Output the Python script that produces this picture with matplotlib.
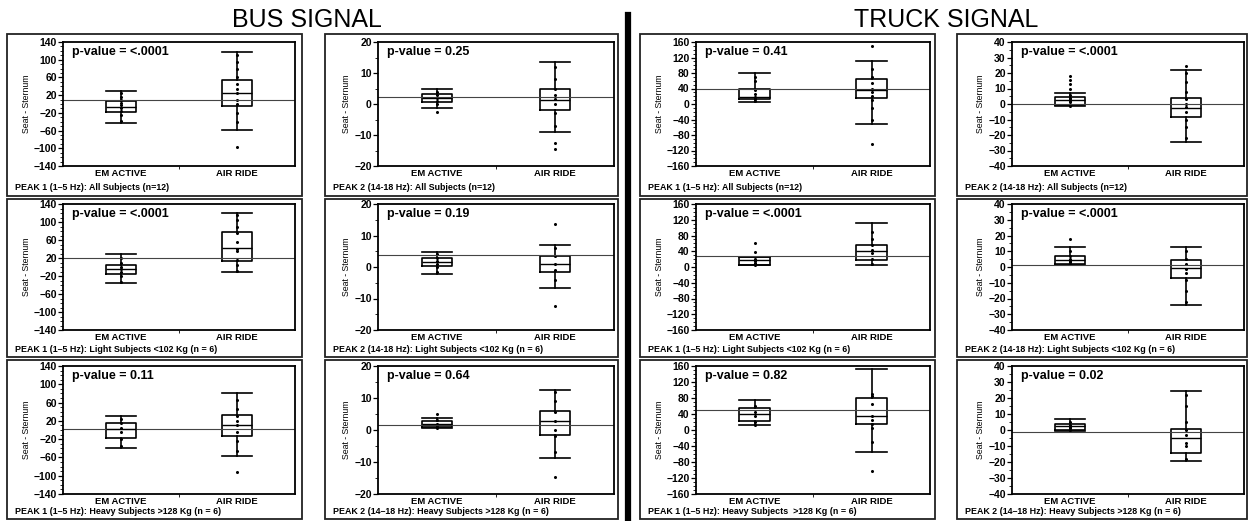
import numpy as np
import matplotlib
matplotlib.use("Agg")
import matplotlib.pyplot as plt
from matplotlib.patches import Rectangle
from matplotlib.ticker import AutoMinorLocator

plt.rcParams['font.family'] = ['Liberation Sans', 'DejaVu Sans']

# panel order: row by row, columns = bus peak1, bus peak2, truck peak1, truck peak2
groups = ["EM ACTIVE", "AIR RIDE"]
p_values = ["p-value = <.0001", "p-value = 0.25", "p-value = 0.41", "p-value = <.0001",
            "p-value = <.0001", "p-value = 0.19", "p-value = <.0001", "p-value = <.0001",
            "p-value = 0.11", "p-value = 0.64", "p-value = 0.82", "p-value = 0.02"]
captions = ["PEAK 1 (1\u20135 Hz): All Subjects (n=12)",
            "PEAK 2 (14-18 Hz): All Subjects (n=12)",
            "PEAK 1 (1\u20135 Hz): All Subjects (n=12)",
            "PEAK 2 (14-18 Hz): All Subjects (n=12)",
            "PEAK 1 (1\u20135 Hz): Light Subjects <102 Kg (n = 6)",
            "PEAK 2 (14-18 Hz): Light Subjects <102 Kg (n = 6)",
            "PEAK 1 (1\u20135 Hz): Light Subjects <102 Kg (n = 6)",
            "PEAK 2 (14-18 Hz): Light Subjects <102 Kg (n = 6)",
            "PEAK 1 (1\u20135 Hz): Heavy Subjects >128 Kg (n = 6)",
            "PEAK 2 (14\u201318 Hz): Heavy Subjects >128 Kg (n = 6)",
            "PEAK 1 (1\u20135 Hz): Heavy Subjects  >128 Kg (n = 6)",
            "PEAK 2 (14\u201318 Hz): Heavy Subjects >128 Kg (n = 6)"]
y_limits = [140, 20, 160, 40]
y_steps = [40, 10, 40, 10]
y_minor = [4, 2, 4, 2]

# grand mean line
mean_line = [10, 2.3, 38, 0, 20, 3.8, 28, 1.3, 2, 1.5, 50, -1]

# EM ACTIVE box stats
em_lo = [-42, -1.4, 6, -1.2, -36, -2.2, 4, 1.3, -39, 0.5, 12.6, -0.6]
em_q1 = [-17, 0.8, 14, -0.5, -14.5, 0.3, 6, 1.9, -17, 0.9, 22.6, 0]
em_med = [-6, 1.8, 18, 2.7, -5, 1.5, 17, 4.7, 1.4, 1.9, 41, 2.5]
em_q3 = [7.6, 3.1, 39, 4.2, 5.5, 2.9, 25, 6.8, 14.5, 2.8, 56, 4]
em_hi = [30, 4.7, 79, 7, 29, 4.9, 25, 12.9, 31, 3.9, 76, 6.7]

# AIR RIDE box stats
air_lo = [-59, -9, -52, -24.4, -10, -6.6, 4.2, -23.9, -57, -8.6, -54, -19.2]
air_q1 = [-4.5, -2, 14.4, -8.4, 13, -1.6, 17, -7, -14, -1.5, 15, -14.2]
air_med = [25, 1.3, 36, -2.7, 43, 1.1, 41.5, -0.8, 11, 2.9, 34, -4.8]
air_q3 = [54, 5, 65, 3.7, 78, 3.6, 57, 4.7, 33.5, 5.9, 80, 0.8]
air_hi = [117, 13.6, 110, 22, 119, 7.1, 112, 12.9, 80, 12.5, 152, 24.4]

# individual points
em_dots = [[-38, -25, -15, -8, -3, 2, 8, 15, 25],
           [-2.7, 0, 1, 2, 3, 4],
           [8, 12, 18, 25, 35, 60, 70],
           [-1, 1, 2, 3, 4, 6, 10, 12.7, 15.5, 18],
           [-33, -20, -10, -5, 0, 10, 20],
           [-1.5, 0, 1, 2, 3, 4],
           [5, 10, 15, 20, 37, 61],
           [2, 3, 4, 5, 7, 10, 18],
           [-35, -20, -5, 5, 15, 25],
           [0.5, 1, 1.5, 2, 3, 5],
           [13, 20, 35, 45, 60],
           [0, 1, 2, 3, 5]]
air_dots = [[-97, -40, -20, 0, 10, 25, 35, 45, 60, 80, 95, 110],
            [-14.6, -12.5, -7, -3, 0, 1.5, 3, 5, 8, 12],
            [-103, -40, -10, 10, 20, 30, 40, 55, 70, 90, 150],
            [-22, -15, -10, -5, -2, 0, 3, 8, 14, 20, 24.4],
            [-8, 5, 15, 35, 40, 55, 75, 90, 105, 115],
            [-12.4, -4, -1, 1, 3.5, 6, 13.8],
            [8, 20, 35, 42, 55, 70, 90],
            [-22, -15, -8, -4, -1, 2, 5, 10],
            [-92.7, -45, -25, -5, 10, 20, 30, 45, 65],
            [-14.7, -7, -2, 0, 2.9, 5.5, 9, 12],
            [-102, -30, 5, 15, 25, 35, 65, 85, 90],
            [-18, -10, -8, -3, 0, 5, 15, 22]]

W, H = 1249, 521
fig = plt.figure(figsize=(W / 100, H / 100), dpi=100)

# pixel layout
ax_x = [(63, 295), (378, 614), (696, 930), (1012, 1244)]
ax_y = [(42, 166), (204, 330), (366, 494)]
frame_x = [(7, 302), (325, 618), (640, 935), (957, 1247)]
frame_y = [(34, 196), (199, 357), (360, 519)]
caption_y = [187, 350, 512]

for r in range(3):
    for c in range(4):
        k = r * 4 + c
        x0, x1 = ax_x[c]
        y0, y1 = ax_y[r]
        ax = fig.add_axes([x0 / W, 1 - y1 / H, (x1 - x0) / W, (y1 - y0) / H])

        fx0, fx1 = frame_x[c]
        fy0, fy1 = frame_y[r]
        fig.patches.append(Rectangle((fx0 / W, 1 - fy1 / H), (fx1 - fx0) / W, (fy1 - fy0) / H,
                                     transform=fig.transFigure, fill=False,
                                     edgecolor="#222222", linewidth=1.3))

        stats = [dict(med=em_med[k], q1=em_q1[k], q3=em_q3[k], whislo=em_lo[k],
                      whishi=em_hi[k], fliers=[]),
                 dict(med=air_med[k], q1=air_q1[k], q3=air_q3[k], whislo=air_lo[k],
                      whishi=air_hi[k], fliers=[])]
        lp = dict(color="black", linewidth=1.2)
        ax.bxp(stats, positions=[1, 2], widths=0.26, capwidths=0.26, showfliers=False,
               boxprops=lp, whiskerprops=lp, capprops=lp,
               medianprops=dict(color="black", linewidth=1.0))

        ax.plot(np.full(len(em_dots[k]), 1.0), em_dots[k], "o", ms=1.2, color="black")
        ax.plot(np.full(len(air_dots[k]), 2.0), air_dots[k], "o", ms=1.2, color="black")

        ax.axhline(mean_line[k], color="#444444", linewidth=0.8)

        lim = y_limits[c]
        ax.set_xlim(0.5, 2.5)
        ax.set_ylim(-lim, lim)
        ax.set_yticks(np.arange(-lim, lim + 1, y_steps[c]))
        ax.yaxis.set_minor_locator(AutoMinorLocator(y_minor[c]))
        ax.set_xticks([1, 2])
        ax.set_xticklabels(groups, fontsize=6.8, fontweight="bold")
        ax.set_xticks([1.5], minor=True)
        for lab in ax.get_yticklabels():
            lab.set_fontsize(7.5)
            lab.set_fontweight("bold")
        ax.tick_params(axis="y", which="major", length=3.5, width=0.9, pad=1)
        ax.tick_params(axis="y", which="minor", length=2, width=0.6)
        ax.tick_params(axis="x", which="major", length=0, pad=2)
        ax.tick_params(axis="x", which="minor", length=2, width=0.6)
        for sp in ax.spines.values():
            sp.set_linewidth(1.3)

        ax.set_ylabel("Seat - Sternum", fontsize=6.3, labelpad=2)
        ax.text(0.04, 0.92, p_values[k], transform=ax.transAxes, fontsize=9,
                fontweight="bold", va="center", ha="left")

        fig.text((fx0 + 8) / W, 1 - caption_y[r] / H, captions[k], fontsize=6.4,
                 fontweight="bold", va="center", ha="left")

fig.text(307 / W, 1 - 20 / H, "BUS SIGNAL", fontsize=18, ha="center", va="center")
fig.text(946 / W, 1 - 20 / H, "TRUCK SIGNAL", fontsize=18, ha="center", va="center")
fig.add_artist(plt.Line2D([628 / W, 628 / W], [0, 1 - 15 / H], transform=fig.transFigure,
                          color="black", linewidth=4.5))

fig.savefig("out.png", dpi=100, facecolor="white")
